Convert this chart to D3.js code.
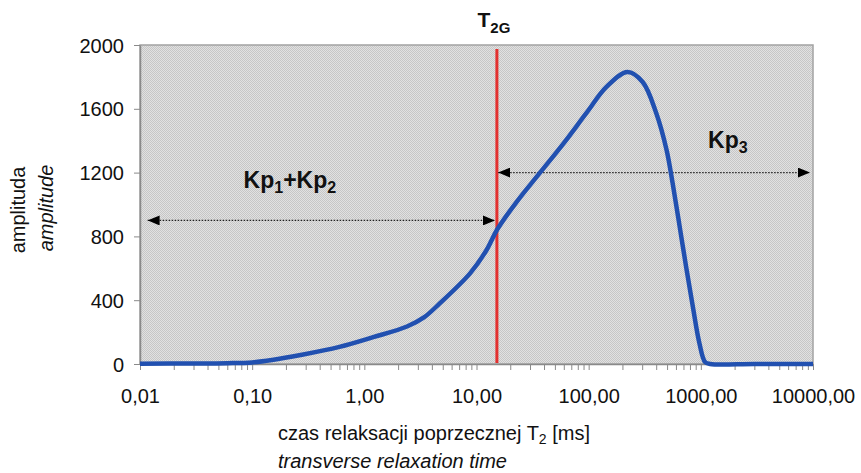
<!DOCTYPE html>
<html>
<head>
<meta charset="utf-8">
<script src="https://cdn.jsdelivr.net/npm/d3@7"></script>
<style>
  html, body { margin: 0; padding: 0; background: #fff; overflow: hidden; }
  svg { display: block; }
  text { font-family: "Liberation Sans", Arial, sans-serif; fill: #111; }
</style>
</head>
<body>
<div id="chart"></div>
<script>
// T2 relaxation time [ms] and amplitude
const t2 = [0.01, 0.03, 0.06, 0.1, 0.15, 0.27, 0.6, 1.2, 2.4, 3.4, 4.7, 8.8, 12.3, 15.2, 23, 36.7, 60, 95.6, 144, 222, 303, 400, 495, 560, 640, 740, 850, 970, 1090, 1210, 3000, 10000];
const amplitude = [2, 3, 5, 10, 25, 56, 107, 168, 235, 292, 380, 570, 715, 840, 1020, 1198, 1385, 1574, 1737, 1831, 1768, 1574, 1342, 1135, 884, 608, 357, 132, 13, 0, 0, 0];

const xTicks = [0.01, 0.1, 1, 10, 100, 1000, 10000];
const yTicks = [0, 400, 800, 1200, 1600, 2000];
const t2G = 15.2;

// annotation arrows (in data units)
const arrows = [
    { from: 0.0117, to: 14.6, amp: 900 },
    { from: 15.6, to: 9400, amp: 1200 }
];
const labels = [
    { t: 0.217, amp: 1072, parts: [["Kp", false], ["1", true], ["+Kp", false], ["2", true]] },
    { t: 1740, amp: 1323, parts: [["Kp", false], ["3", true]] }
];

const width = 861, height = 473;
const margin = { top: 45, right: 48, bottom: 109, left: 140 };

const svg = d3.select("#chart").append("svg")
    .attr("width", width)
    .attr("height", height);

const x = d3.scaleLog()
    .domain([0.01, 10000])
    .range([margin.left, width - margin.right]);

const y = d3.scaleLinear()
    .domain([0, 2000])
    .range([height - margin.bottom, margin.top]);

// dotted grey plot background
const defs = svg.append("defs");
const pat = defs.append("pattern")
    .attr("id", "dots")
    .attr("width", 2).attr("height", 2)
    .attr("patternUnits", "userSpaceOnUse");
pat.append("rect").attr("width", 2).attr("height", 2).attr("fill", "#e1e1e1");
pat.append("rect").attr("width", 1).attr("height", 1).attr("fill", "#c6c6c6");
pat.append("rect").attr("x", 1).attr("y", 1).attr("width", 1).attr("height", 1).attr("fill", "#c6c6c6");

defs.append("marker")
    .attr("id", "arrow")
    .attr("viewBox", "0 0 12 10")
    .attr("refX", 12).attr("refY", 5)
    .attr("markerWidth", 12).attr("markerHeight", 10)
    .attr("markerUnits", "userSpaceOnUse")
    .attr("orient", "auto-start-reverse")
    .append("path")
    .attr("d", "M0,0L12,5L0,10Z")
    .attr("fill", "#000");

svg.append("rect")
    .attr("x", x.range()[0])
    .attr("y", y.range()[1])
    .attr("width", x.range()[1] - x.range()[0])
    .attr("height", y.range()[0] - y.range()[1])
    .attr("fill", "url(#dots)")
    .attr("stroke", "#a3a3a3")
    .attr("stroke-width", 1.5);

// x axis with minor log ticks
const allTicks = [];
xTicks.slice(0, -1).forEach(d => {
    for (let k = 1; k < 10; k++) allTicks.push(d * k);
});
allTicks.push(10000);

const xAxis = svg.append("g")
    .attr("transform", `translate(0,${y(0)})`)
    .call(d3.axisBottom(x)
        .tickValues(allTicks)
        .tickSize(6)
        .tickSizeOuter(0)
        .tickFormat(d => xTicks.some(v => Math.abs(v - d) < 1e-9) ? d.toFixed(2).replace(".", ",") : ""));
xAxis.select(".domain").attr("stroke", "#8a8a8a").attr("stroke-width", 1.5);
xAxis.selectAll(".tick line").attr("stroke", "#8a8a8a");
xAxis.selectAll(".tick text")
    .attr("y", 39).attr("dy", null)
    .style("font-size", "20px")
    .style("font-family", "Liberation Sans, Arial, sans-serif")
    .attr("fill", "#111");

const yAxis = svg.append("g")
    .attr("transform", `translate(${x.range()[0]},0)`)
    .call(d3.axisLeft(y).tickValues(yTicks).tickFormat(d3.format("d"))
        .tickSize(6).tickSizeOuter(0).tickPadding(10));
yAxis.select(".domain").attr("stroke", "#8a8a8a").attr("stroke-width", 1.5);
yAxis.selectAll(".tick line").attr("stroke", "#8a8a8a");
yAxis.selectAll(".tick text")
    .attr("dy", "0.35em")
    .style("font-size", "20px")
    .style("font-family", "Liberation Sans, Arial, sans-serif")
    .attr("fill", "#111");

// T2G line
svg.append("line")
    .attr("x1", x(t2G)).attr("x2", x(t2G))
    .attr("y1", y(1975)).attr("y2", y(6))
    .attr("stroke", "#e3302f")
    .attr("stroke-width", 3);

// dotted arrows
svg.selectAll(".arrow")
    .data(arrows)
    .join("line")
    .attr("class", "arrow")
    .attr("x1", d => x(d.from)).attr("x2", d => x(d.to))
    .attr("y1", d => y(d.amp)).attr("y2", d => y(d.amp))
    .attr("stroke", "#222")
    .attr("stroke-width", 1.2)
    .attr("stroke-dasharray", "1.5,1.5")
    .attr("marker-start", "url(#arrow)")
    .attr("marker-end", "url(#arrow)");

// distribution curve
const line = d3.line()
    .x((d, i) => x(t2[i]))
    .y(d => Math.min(y(d), y(0)))
    .curve(d3.curveCatmullRom.alpha(0.5));

svg.append("path")
    .datum(amplitude)
    .attr("d", line)
    .attr("fill", "none")
    .attr("stroke", "#2150b0")
    .attr("stroke-width", 4.5)
    .attr("stroke-linejoin", "round");

// bold labels with subscripts
labels.forEach(l => {
    const txt = svg.append("text")
        .attr("x", x(l.t)).attr("y", y(l.amp))
        .attr("text-anchor", "middle")
        .style("font-weight", "bold")
        .style("font-size", "23px");
    l.parts.forEach(([s, sub]) => {
        txt.append("tspan")
            .attr("dy", sub ? 5 : (txt.selectAll("tspan").size() > 0 ? -5 : 0))
            .style("font-size", sub ? "16px" : "23px")
            .text(s);
    });
});

const tg = svg.append("text")
    .attr("x", x(t2G) - 3).attr("y", 27)
    .attr("text-anchor", "middle")
    .style("font-weight", "bold")
    .style("font-size", "21px");
tg.append("tspan").text("T");
tg.append("tspan").attr("dy", 6).style("font-size", "15px").text("2G");

// axis titles
const xt = svg.append("text")
    .attr("x", 278).attr("y", 440)
    .style("font-size", "20px");
xt.append("tspan").text("czas relaksacji poprzecznej T");
xt.append("tspan").attr("dy", 4).style("font-size", "14px").text("2");
xt.append("tspan").attr("dy", -4).text(" [ms]");

svg.append("text")
    .attr("x", 278).attr("y", 468)
    .style("font-size", "20px")
    .style("font-style", "italic")
    .text("transverse relaxation time");

svg.append("text")
    .attr("transform", "translate(25,210) rotate(-90)")
    .attr("text-anchor", "middle")
    .style("font-size", "20px")
    .text("amplituda");

svg.append("text")
    .attr("transform", "translate(53,208) rotate(-90)")
    .attr("text-anchor", "middle")
    .style("font-size", "20px")
    .style("font-style", "italic")
    .text("amplitude");
</script>
</body>
</html>
